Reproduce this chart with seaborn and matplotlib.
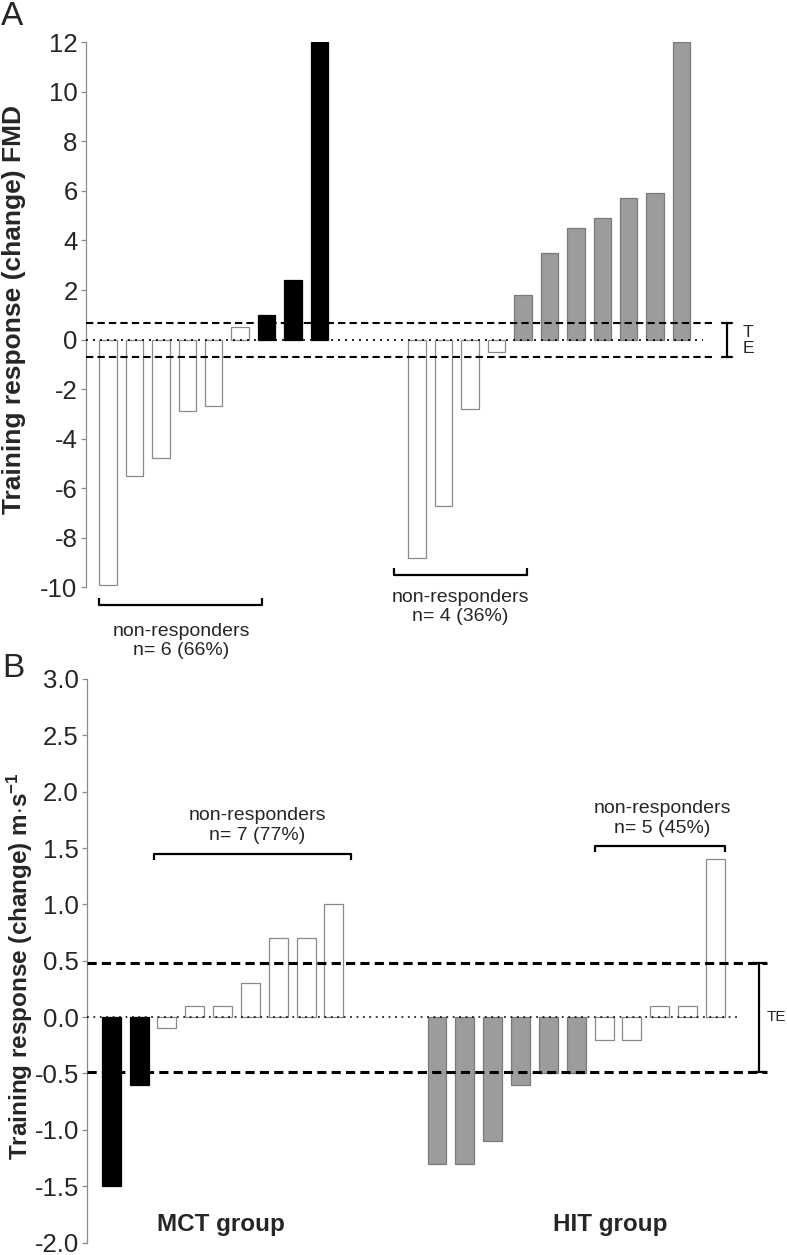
import numpy as np
import pandas as pd
import seaborn as sns
import matplotlib.pyplot as plt
from matplotlib.ticker import FormatStrFormatter

# Values
mct_fmd = [-9.9, -5.5, -4.8, -2.9, -2.7, 0.5, 1.0, 2.4, 12.0]
hit_fmd = [-8.8, -6.7, -2.8, -0.5, 1.8, 3.5, 4.5, 4.9, 5.7, 5.9, 12.0]
mct_fmd_kind = ['non'] * 6 + ['mct'] * 3
hit_fmd_kind = ['non'] * 4 + ['hit'] * 7

mct_vo2 = [-1.5, -0.6, -0.1, 0.1, 0.1, 0.3, 0.7, 0.7, 1.0]
hit_vo2 = [-1.3, -1.3, -1.1, -0.6, -0.5, -0.5, -0.2, -0.2, 0.1, 0.1, 1.4]
mct_vo2_kind = ['mct'] * 2 + ['non'] * 7
hit_vo2_kind = ['hit'] * 6 + ['non'] * 5

te_fmd = (0.65, -0.72)
te_vo2 = (0.48, -0.49)

fmd_ticks = list(range(-10, 13, 2))
vo2_ticks = [-2.0, -1.5, -1.0, -0.5, 0.0, 0.5, 1.0, 1.5, 2.0, 2.5, 3.0]

palette = {'non': 'white', 'mct': 'black', 'hit': '#9c9c9c'}
edges = {'non': '#8a8a8a', 'mct': 'black', 'hit': '#7a7a7a'}

sns.set_style('white')
plt.rcParams['font.family'] = ['Liberation Sans', 'DejaVu Sans']
plt.rcParams['axes.unicode_minus'] = False
plt.rcParams['mathtext.fontset'] = 'custom'
plt.rcParams['mathtext.rm'] = 'Liberation Sans'
plt.rcParams['mathtext.bf'] = 'Liberation Sans:bold'
plt.rcParams['mathtext.default'] = 'bf'

gap = 11.7  # position of first HIT bar
W, H = 787, 1255


def make_df(mct, hit, mct_kind, hit_kind):
    pos = list(np.arange(len(mct))) + list(gap + np.arange(len(hit)))
    return pd.DataFrame({'pos': pos, 'value': mct + hit, 'kind': mct_kind + hit_kind})


def draw_bars(ax, df, width):
    sns.barplot(data=df, x='pos', y='value', hue='kind', palette=palette,
                native_scale=True, width=width, errorbar=None, legend=False,
                saturation=1, ax=ax)
    for p in ax.patches:
        fc = p.get_facecolor()
        if fc[0] > 0.99:
            k = 'non'
        elif fc[0] < 0.01:
            k = 'mct'
        else:
            k = 'hit'
        p.set_edgecolor(edges[k])
        p.set_linewidth(0.9)


def style_axis(ax, lo, hi):
    ax.spines['top'].set_visible(False)
    ax.spines['right'].set_visible(False)
    ax.spines['bottom'].set_visible(False)
    ax.spines['left'].set_color('#8a8a8a')
    ax.spines['left'].set_linewidth(0.9)
    ax.spines['left'].set_bounds(lo, hi)
    ax.set_ylim(lo, hi)
    ax.set_xticks([])
    ax.set_xlabel('')
    ax.tick_params(axis='y', left=True, length=3.6, width=0.9, color='#8a8a8a',
                   pad=2.5, labelsize=18.5)


def bracket(ax, x0, x1, y, tick, lw=1.6):
    ax.plot([x0, x0, x1, x1], [y + tick, y, y, y + tick], color='black',
            lw=lw, clip_on=False, solid_capstyle='butt')


def te_bar(ax, x, lo, hi, cap, lw=1.6):
    ax.plot([x, x], [lo, hi], color='black', lw=lw, clip_on=False)
    ax.plot([x - cap, x + cap], [hi, hi], color='black', lw=lw, clip_on=False)
    ax.plot([x - cap, x + cap], [lo, lo], color='black', lw=lw, clip_on=False)


fig = plt.figure(figsize=(W / 100, H / 100), dpi=100)

# ---------------- Panel A: FMD ----------------
axA = fig.add_axes([86 / W, 1 - 587.3 / H, (W - 86) / W, (587.3 - 42.3) / H])
draw_bars(axA, make_df(mct_fmd, hit_fmd, mct_fmd_kind, hit_fmd_kind), 0.66)
axA.set_xlim(-0.83, 25.69)
style_axis(axA, -10, 12)
axA.set_yticks(fmd_ticks)
axA.set_ylabel('Training response (change) FMD', fontsize=19, fontweight='bold')
axA.yaxis.set_label_coords(-0.085, 0.51)

axA.hlines(te_fmd, -0.83, 22.93, colors='black', lw=1.5,
           linestyles=(0, (3.5, 2)), zorder=5)
axA.hlines(0, -0.83, 22.5, colors='black', lw=1.2,
           linestyles=(0, (1.2, 3.0)), zorder=5)
te_bar(axA, 23.41, te_fmd[1], te_fmd[0], 0.19)
axA.text(24.03, -0.03, 'T\nE', fontsize=12.5, ha='left', va='center',
         linespacing=1.05)

bracket(axA, -0.33, 5.82, -10.71, 0.28)
axA.text(2.77, -12.17, 'non-responders\nn= 6 (66%)', fontsize=14,
         ha='center', va='center', clip_on=False)
bracket(axA, 10.83, 15.84, -9.49, 0.28)
axA.text(13.32, -10.8, 'non-responders\nn= 4 (36%)', fontsize=14,
         ha='center', va='center', clip_on=False)

# ---------------- Panel B: velocity ----------------
axB = fig.add_axes([87.3 / W, 1 - 1242.5 / H, (W - 87.3) / W, (1242.5 - 679) / H])
draw_bars(axB, make_df(mct_vo2, hit_vo2, mct_vo2_kind, hit_vo2_kind), 0.68)
axB.set_xlim(-0.858, 24.27)
style_axis(axB, -2.0, 3.0)
axB.set_yticks(vo2_ticks)
axB.yaxis.set_major_formatter(FormatStrFormatter('%.1f'))
axB.set_ylabel(r'Training response (change) m$\cdot$s$^{-1}$', fontsize=17.5,
               fontweight='bold')
axB.yaxis.set_label_coords(-0.075, 0.49)

axB.hlines(te_vo2, -0.858, 23.54, colors='black', lw=2.2,
           linestyles=(0, (3, 1.7)), zorder=5)
axB.hlines(0, -0.858, 22.46, colors='black', lw=1.1,
           linestyles=(0, (1.2, 3.0)), zorder=5)
te_bar(axB, 23.27, te_vo2[1], te_vo2[0], 0.23)
axB.text(23.54, 0.0, 'TE', fontsize=11, ha='left', va='center')

bracket(axB, 1.54, 8.6, 1.45, -0.055)
axB.text(5.25, 1.70, 'non-responders\nn= 7 (77%)', fontsize=14,
         ha='center', va='center')
bracket(axB, 17.37, 22.06, 1.52, -0.055)
axB.text(19.78, 1.76, 'non-responders\nn= 5 (45%)', fontsize=14,
         ha='center', va='center')

axB.text(3.94, -1.84, 'MCT group', fontsize=17.5, fontweight='bold',
         ha='center', va='center')
axB.text(17.94, -1.84, 'HIT group', fontsize=17.5, fontweight='bold',
         ha='center', va='center')

fig.text(1 / W, 1 - 1 / H, 'A', fontsize=24, ha='left', va='top')
fig.text(2 / W, 1 - 653 / H, 'B', fontsize=24, ha='left', va='top')

fig.savefig('out.png', dpi=100)
